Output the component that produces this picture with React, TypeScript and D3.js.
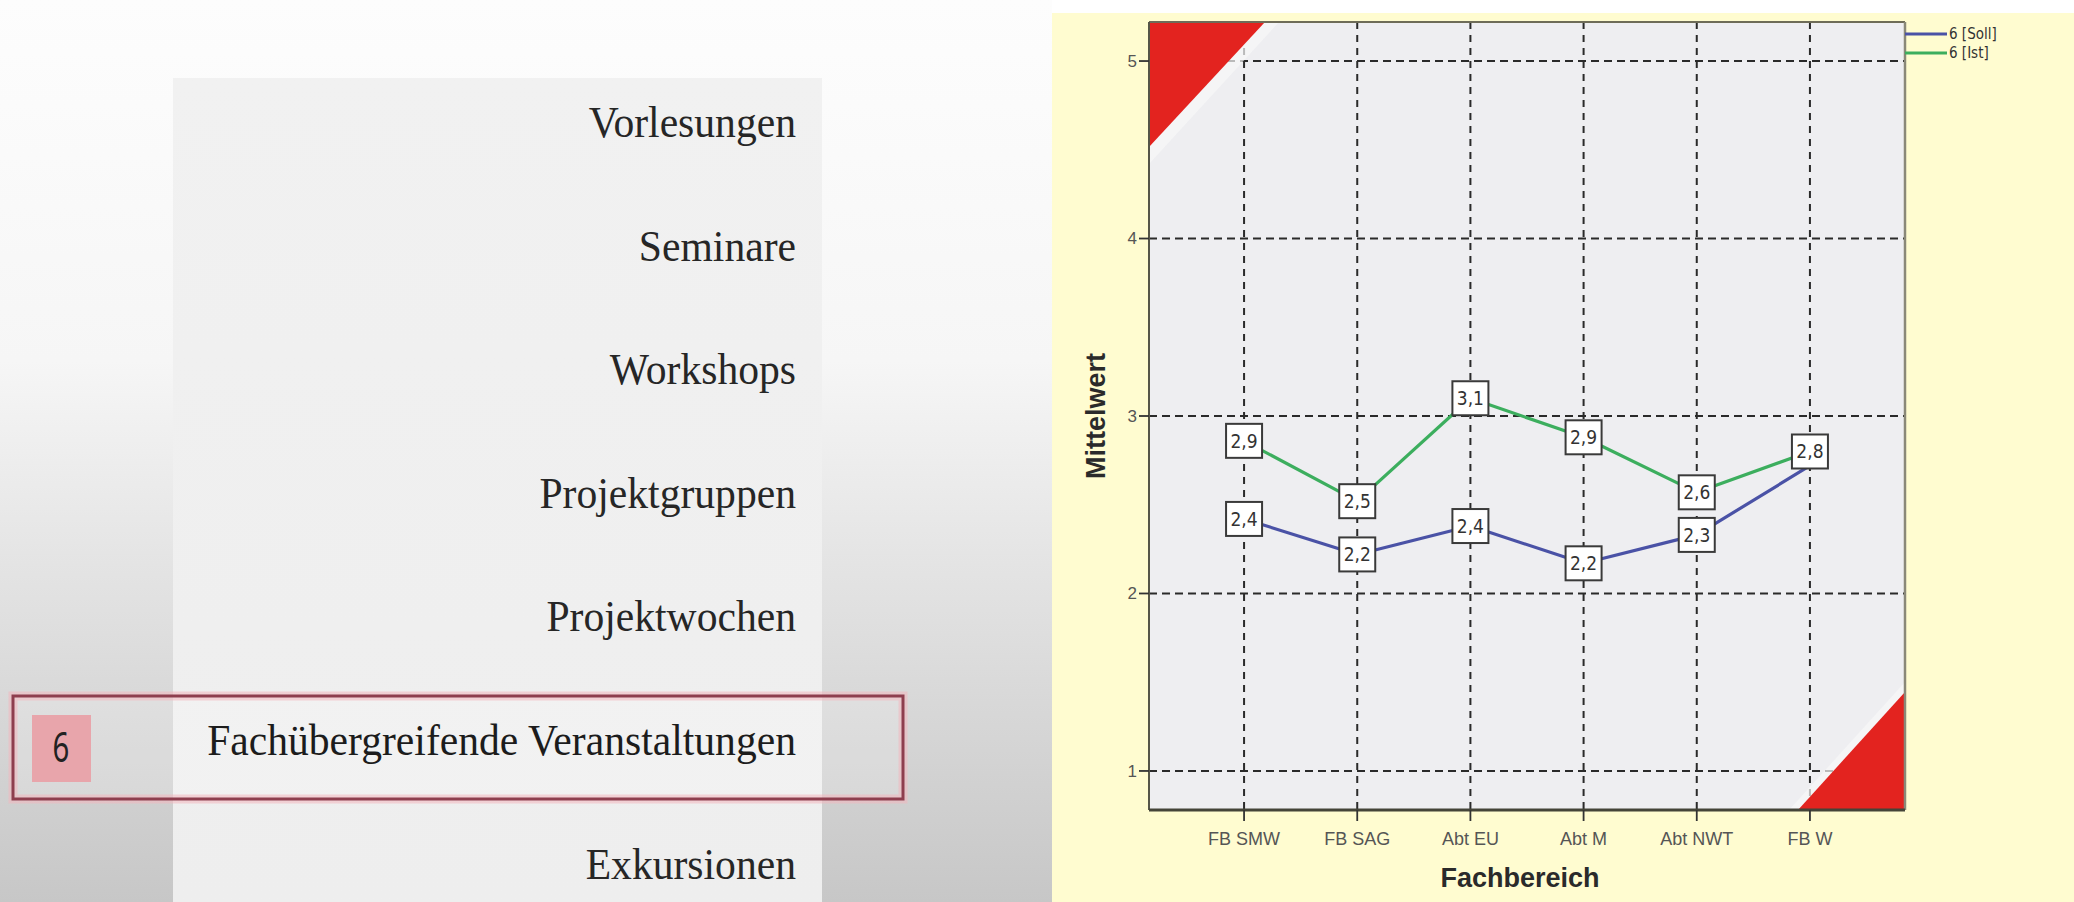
import React from "react";
import * as d3 from "d3";

// ---- slide menu ----
const menuItems = [
  "Vorlesungen",
  "Seminare",
  "Workshops",
  "Projektgruppen",
  "Projektwochen",
  "Fachübergreifende Veranstaltungen",
  "Exkursionen",
];
const activeIndex = 5;
const activeNumber = "6";

// ---- chart data ----
const categories = ["FB SMW", "FB SAG", "Abt EU", "Abt M", "Abt NWT", "FB W"];
const sollValues = [2.42, 2.22, 2.38, 2.17, 2.33, 2.72];
const istValues = [2.86, 2.52, 3.1, 2.88, 2.57, 2.8];
const seriesNames = ["6 [Soll]", "6 [Ist]"];
const yTicks = [1, 2, 3, 4, 5];
const yDomain: [number, number] = [0.78, 5.22];
const xTitle = "Fachbereich";
const yTitle = "Mittelwert";

const W = 2074;
const H = 902;

const plot = { left: 1149, right: 1905, top: 22, bottom: 810 };
const colors = { soll: "#4a52a6", ist: "#3cae5e" };

const deLocale = d3.formatLocale({
  decimal: ",",
  thousands: ".",
  grouping: [3],
  currency: ["", " €"],
});
const fmt = deLocale.format(".1f");

export default function App() {
  const x = d3
    .scalePoint<string>()
    .domain(categories)
    .range([plot.left, plot.right])
    .padding(0.84);
  const y = d3.scaleLinear().domain(yDomain).range([plot.bottom, plot.top]);

  const line = d3
    .line<number>()
    .x((_, i) => x(categories[i]) as number)
    .y((d) => y(d));

  const series = [
    { name: seriesNames[0], values: sollValues, color: colors.soll },
    { name: seriesNames[1], values: istValues, color: colors.ist },
  ];

  // Value boxes: Ist first, then Soll; a box that would overlap one already placed is dropped.
  const boxW = 36;
  const boxH = 34;
  const placed: { cx: number; cy: number; text: string }[] = [];
  [series[1], series[0]].forEach((s) => {
    s.values.forEach((v, i) => {
      const cx = x(categories[i]) as number;
      const cy = y(v);
      const hit = placed.some(
        (p) => Math.abs(p.cx - cx) < boxW && Math.abs(p.cy - cy) < boxH
      );
      if (!hit) placed.push({ cx, cy, text: fmt(v) });
    });
  });

  const menuBase = 137;
  const menuStep = 123.6;
  const menuRight = 796;

  const pw = plot.right - plot.left;
  const ph = plot.bottom - plot.top;

  const tri = (pts: [number, number][]) =>
    pts.map((p) => p.join(",")).join(" ");

  return (
    <svg
      width={W}
      height={H}
      style={{ position: "absolute", left: 0, top: 0 }}
      xmlns="http://www.w3.org/2000/svg"
    >
      <defs>
        <linearGradient id="slideBg" x1="0" y1="0" x2="0" y2="1">
          <stop offset="0" stopColor="#fdfdfd" />
          <stop offset="0.4" stopColor="#f6f6f6" />
          <stop offset="0.65" stopColor="#e2e2e2" />
          <stop offset="1" stopColor="#c7c7c7" />
        </linearGradient>
        <linearGradient id="colBg" x1="0" y1="0" x2="0" y2="1">
          <stop offset="0" stopColor="#f1f1f1" />
          <stop offset="1" stopColor="#eeeeee" />
        </linearGradient>
      </defs>

      <rect x={0} y={0} width={W} height={H} fill="#ffffff" />

      {/* ---------- left: slide menu ---------- */}
      <rect x={0} y={0} width={1052} height={H} fill="url(#slideBg)" />
      <rect x={173} y={78} width={649} height={H - 78} fill="url(#colBg)" />

      <rect
        x={13}
        y={696}
        width={890}
        height={103}
        fill="#ffffff"
        fillOpacity={0.18}
        stroke="#f2b6be"
        strokeWidth={9}
        strokeOpacity={0.55}
      />
      <rect
        x={13}
        y={696}
        width={890}
        height={103}
        fill="none"
        stroke="#8e3e4e"
        strokeWidth={3}
      />
      <rect x={32} y={715} width={59} height={67} fill="#e8a5ab" />
      <text
        transform={`translate(61,762) scale(0.7,1)`}
        textAnchor="middle"
        fontFamily="'Noto Sans', 'Liberation Sans', sans-serif"
        fontSize={42}
        fill="#222"
      >
        {activeNumber}
      </text>

      {menuItems.map((m, i) => (
        <text
          key={m}
          transform={`translate(${menuRight},${menuBase + i * menuStep}) scale(0.925,1)`}
          textAnchor="end"
          fontFamily="'Liberation Serif', 'DejaVu Serif', serif"
          fontSize={45}
          fill={i === activeIndex ? "#1c1c1c" : "#262626"}
        >
          {m}
        </text>
      ))}

      {/* ---------- right: SPSS line chart ---------- */}
      <rect x={1052} y={13} width={W - 1052} height={H - 13} fill="#fffcd0" />
      <rect x={plot.left} y={plot.top} width={pw} height={ph} fill="#eeeef1" />

      {/* horizontal grid */}
      {yTicks.map((t) => (
        <line
          key={`hg${t}`}
          x1={plot.left}
          x2={plot.right}
          y1={y(t)}
          y2={y(t)}
          stroke="#2a2a2a"
          strokeWidth={2}
          strokeDasharray="8 5"
        />
      ))}
      {/* vertical grid */}
      {categories.map((c) => (
        <line
          key={`vg${c}`}
          x1={x(c)}
          x2={x(c)}
          y1={plot.top}
          y2={plot.bottom}
          stroke="#2a2a2a"
          strokeWidth={2}
          strokeDasharray="7 6"
        />
      ))}

      {/* corner marks */}
      <polygon
        points={tri([
          [plot.left, plot.top],
          [plot.left + 130, plot.top],
          [plot.left, plot.top + 142],
        ])}
        fill="#f8f8f8"
        fillOpacity={0.7}
      />
      <polygon
        points={tri([
          [plot.left, plot.top],
          [plot.left + 116, plot.top],
          [plot.left, plot.top + 125],
        ])}
        fill="#e3231f"
      />
      <polygon
        points={tri([
          [plot.right, plot.bottom - 128],
          [plot.right, plot.bottom],
          [plot.right - 116, plot.bottom],
        ])}
        fill="#f8f8f8"
        fillOpacity={0.7}
      />
      <polygon
        points={tri([
          [plot.right, plot.bottom - 118],
          [plot.right, plot.bottom],
          [plot.right - 107, plot.bottom],
        ])}
        fill="#e3231f"
      />

      {/* frame */}
      <line x1={plot.left} x2={plot.right} y1={plot.top} y2={plot.top} stroke="#6e6c58" strokeWidth={2} />
      <line x1={plot.right} x2={plot.right} y1={plot.top} y2={plot.bottom} stroke="#8a8878" strokeWidth={2.5} />
      <line x1={plot.left} x2={plot.left} y1={plot.top} y2={plot.bottom} stroke="#555548" strokeWidth={2} />
      <line x1={plot.left} x2={plot.right} y1={plot.bottom} y2={plot.bottom} stroke="#444438" strokeWidth={3} />

      {/* y ticks */}
      {yTicks.map((t) => (
        <g key={`yt${t}`}>
          <line x1={plot.left - 10} x2={plot.left} y1={y(t)} y2={y(t)} stroke="#333" strokeWidth={1.8} />
          <text
            x={plot.left - 12}
            y={y(t)}
            dy="0.35em"
            textAnchor="end"
            fontFamily="'Liberation Sans', Arial, sans-serif"
            fontSize={17}
            fill="#555"
          >
            {t}
          </text>
        </g>
      ))}
      {/* x ticks */}
      {categories.map((c) => (
        <g key={`xt${c}`}>
          <line x1={x(c)} x2={x(c)} y1={plot.bottom} y2={plot.bottom + 11} stroke="#333" strokeWidth={1.8} />
          <text
            x={x(c)}
            y={plot.bottom + 35}
            textAnchor="middle"
            fontFamily="'Liberation Sans', Arial, sans-serif"
            fontSize={18}
            fill="#555"
          >
            {c}
          </text>
        </g>
      ))}

      {/* axis titles */}
      <text
        x={(plot.left + plot.right) / 2 - 7}
        y={887}
        textAnchor="middle"
        fontFamily="'Liberation Sans', Arial, sans-serif"
        fontWeight="bold"
        fontSize={27}
        fill="#2a2a2a"
      >
        {xTitle}
      </text>
      <text
        transform={`translate(1105,${(plot.top + plot.bottom) / 2}) rotate(-90)`}
        textAnchor="middle"
        fontFamily="'Liberation Sans', Arial, sans-serif"
        fontWeight="bold"
        fontSize={27}
        fill="#2a2a2a"
      >
        {yTitle}
      </text>

      {/* series lines */}
      {series.map((s) => (
        <path
          key={s.name}
          d={line(s.values) || ""}
          fill="none"
          stroke={s.color}
          strokeWidth={3.2}
          strokeLinejoin="round"
        />
      ))}

      {/* value boxes */}
      {placed.map((p, i) => (
        <g key={`lb${i}`}>
          <rect
            x={p.cx - boxW / 2}
            y={p.cy - boxH / 2}
            width={boxW}
            height={boxH}
            fill="#ffffff"
            stroke="#3a3a3a"
            strokeWidth={2}
          />
          <text
            x={p.cx}
            y={p.cy}
            dy="0.36em"
            textAnchor="middle"
            fontFamily="'Liberation Sans Narrow', 'DejaVu Sans Condensed', 'Liberation Sans', sans-serif"
            fontSize={19}
            fill="#333"
          >
            {p.text}
          </text>
        </g>
      ))}

      {/* legend */}
      {series.map((s, i) => (
        <g key={`lg${s.name}`}>
          <line
            x1={plot.right}
            x2={plot.right + 42}
            y1={34 + i * 19}
            y2={34 + i * 19}
            stroke={s.color}
            strokeWidth={3}
          />
          <text
            x={plot.right + 44}
            y={34 + i * 19}
            dy="0.36em"
            fontFamily="'Liberation Sans Narrow', 'DejaVu Sans Condensed', 'Liberation Sans', sans-serif"
            fontSize={15}
            fill="#333"
          >
            {s.name}
          </text>
        </g>
      ))}
    </svg>
  );
}
